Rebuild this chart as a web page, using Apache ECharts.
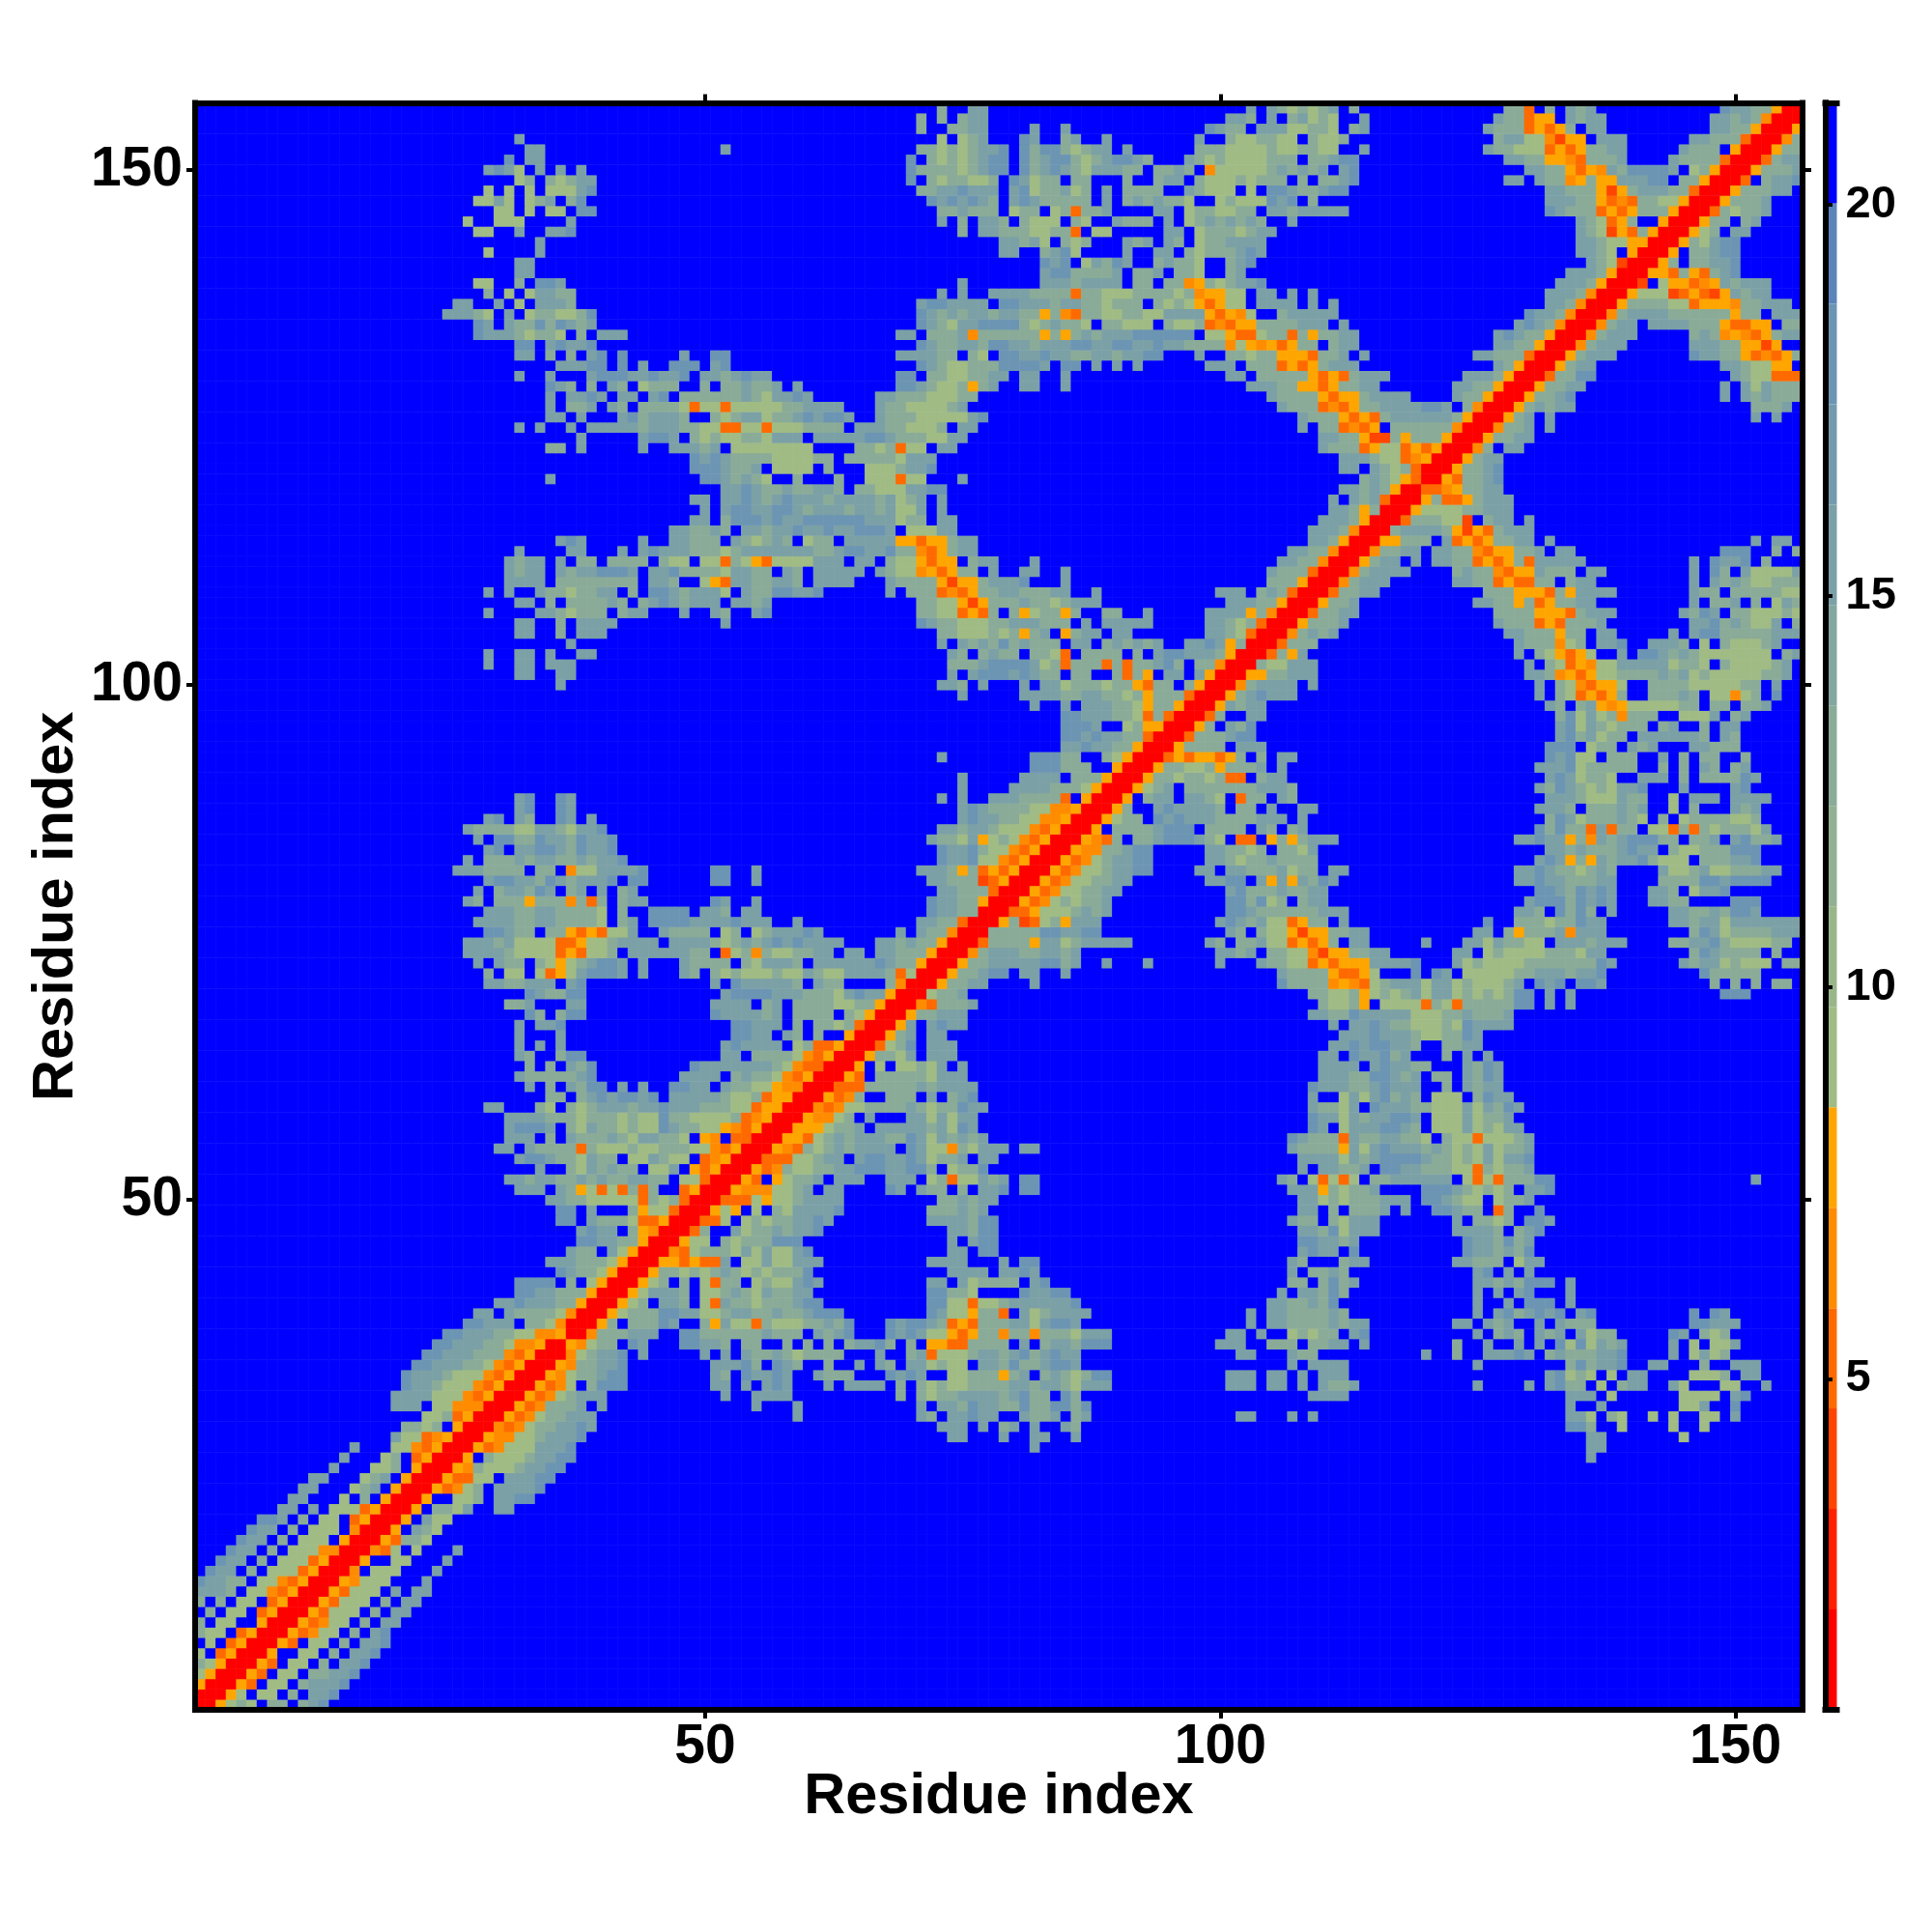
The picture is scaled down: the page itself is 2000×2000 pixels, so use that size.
<!DOCTYPE html>
<html>
<head>
<meta charset="utf-8">
<style>html,body{margin:0;padding:0;background:#fff}#c{width:2000px;height:2000px}</style>
<script src="https://cdn.jsdelivr.net/npm/echarts@6/dist/echarts.min.js"></script>
</head>
<body>
<div id="c"></div>
<script>
// Distance-map cells, upper-left half only (the matrix is symmetric).
// "row|col:codes col:codes" - code letters name the colour level, '.' and anything unlisted is the blue top level.
const cellRows = [
"156|73:k 76:nn 103:n 105:nkgkgkn 113:k 128:kku.k.nkn 149:pnnkkwrr",
"155|71:k 73:k 75:knn 101:nnk.n.kngkg 114:n 127:nkkuww.nknn 148:nnknkvrr",
"154|71:k 74:kknn 82:n 85:n 99:pnkk.nnnggkkg.kn 126:nkkkuwuwk.nn 148:nnkkwrr",
"153|32:n 73:g 75:gkn 81:pn 85:kn 89:n 98:n 101:kggkkgg.kggk 127:knnggvtww.nnn 146:nnkkkurr",
"152|33:nn 52:n 71:kkgkgknnp 81:pkppkgknn 91:n 98:kkkggggkggkkgg..n 126:nkkggguwuwkknn 145:nkkk.wrr",
"151|31:p 33:nn 70:p 72:kgkgknpp 81:pknppkgknppnk 97:nkgkggggkkk.kknpp 128:nnkkwwvukkkn 144:nkkkkurr",
"150|29:npn 32:g 34:n 36:n 38:n 70:pkkkkgknpp 81:pknpnkgnnnkk 94:kknk.vgggggknknkn.np 130:nnkkwuwvnkppppn.gkwrr",
"149|32:gk 35:kgkn 39:n 70:p 72:kgk 75:kggk 80:pngkk.kk 91:k 94:knn 98:kgggkgkkk.k.kknp 128:nn.nkkvwkwwnnnpp.kkwrr",
"148|29:g 31:g 33:g 35:gggnp 71:kknnp 76:nnn 80:npgkkngk.n.kkkk..nkggg.g.ppnkknpp 132:nnkkkwtwknnnkkurr",
"147|28:ggng 33:gkn 37:kp 72:pnpnpnk 80:npnkkkkk.n.knknkkg..gkgggpnp.k 132:nnnkkwuvukkggwrr",
"146|30:gg 33:g 35:gg 38:pp 73:kknkkk.gkk.gkukkn....nn.gkkggkk.nnknnnnn 132:pnkkkuwuwkkkwrr",
"145|27:g 30:ggg 37:n 73:n 75:k 77:nnk.kggg.kg..nkkk.n.gknknknk..n 135:nkguwk..wrr",
"144|28:gg 32:n 35:nnp 75:k 77:nnkkkggkku.gg 95:nn.gkkkgknn 135:nkgtwukwrr",
"143|34:n 79:nnkng.kgk 91:nkn.nk.gkknnnn 135:nnkggwwrr",
"142|29:g 34:n 79:nn 83:knpg 91:n 94:nn 97:kgkkknpn 135:nnkg.wrr",
"141|32:nn 83:pnp.gnkpn 94:knkkg..knp 136:nkgtrr",
"140|32:nn 83:nppkkkkn.kkn.kkg..kn 134:nnnkwrr",
"139|28:gg 32:k 34:ppn 75:n 83:nnnknnnn.kk.kkvwkgknnp 133:nnnkwrr",
"138|29:k 31:g 33:gnnkk 73:n 75:n 78:nnnnkkkkukkgggkkkkgkvwwgg.nn.n.n 132:nnnkvrr",
"137|26:nn 30:n 32:g 34:nnnk 71:nppnnnn.ppnnnknnkkgkkk.kgkgwuwgg.nnnn.n.n 132:nnkvrr",
"136|25:nnnkg 31:n 33:gkkggkp 71:pnknknnknnkkwkvukkggkkggnnnnwuwvg..knnnnn 130:pnnkvrr",
"135|28:pn 31:nkkpkpnkn 71:pnkgnnppppkgknkkg.kkggg.kggkuvuwwkkkknnn.n 129:npnkvrr",
"134|28:pnnnkgkkg 38:k 40:nnn 69:nn 72:kkknvkkkkkkwkwknknnnpppppp.ggwuugkkukwkknn 127:npnkkwrr",
"133|32:pp 35:npnnp 71:pnkknnkppnnknnnppnnppnnpnnkkkkvgwvwuwkk.knn 127:nnkkwrr",
"132|32:nn 35:k 37:k 39:np 42:p 48:n 51:pp 69:nnnnkk.kg.ppnnpnnkknnknnpp 98:n..kkgkkwwwukkn.n 125:nnkkkurr",
"131|36:nnnpp 42:p 44:n 47:ppp 51:np 71:pnkggkkkppppn.pp.n.n 92:n 99:nnn.kkkuwuwknnn 127:nkwrr",
"130|32:n 35:n 39:npppnnpnnp 50:nnk 53:npnn 69:pp 72:kkggkknn 81:nn 85:n 101:nn.kkkkkwuwuknnn 124:nnnkwrr",
"129|35:pnk 39:k 41:nk 44:gkkk 50:k 52:k 53:knkkn 59:n 69:ppnkggkwkn 81:nn 85:n 103:nnnkkwwuwkknn 123:nnkkwrr",
"128|35:n 37:nnpn 42:nn 45:np 48:kkkkk 53:knkgnnpn 67:nnkkkgggkk 105:nkkkkwuwwknnnn 123:nkkwrr",
"127|35:n 37:kkn 41:nk 44:kkkkguggu 53:gggggkknnnn 67:nkkggggkn 106:nkkkuvuwkknnnnppn.kvrr",
"126|35:nn 38:n 42:np 44:knnnk 51:kg 53:knngkknpnppn 67:nkkkgggggnp 108:nkkkwuwuknnnnnnkwrr",
"125|32:n 34:n 37:n 39:nnnnnk 45:nnnkkggu 53:uggugggkkkk.nnnkkgggk.nn 108:n 110:kkuvuw.kkkkkkvrr",
"124|38:n 44:nppn 49:kgkg 53:gkkgnnn.nnnnnppnkkkgg 74:nn 110:nnkkwttkwkkkwrr",
"123|35:kk 38:n 44:n 47:nnnkn 53:gggggggg 65:kkgkugg.nn 110:nkkkuwgguwuwrr",
"122|49:pnpn 53:kkkkggggkk.kkkkkgnnn 112:nnnkgguvwrr",
"121|49:pppn 53:kkn.gggg.k...gggknnp 112:nn.nkgkurr",
"120|35:n 50:ppn 53:knkg..k...k..gggugg...n 114:knkgwur",
"119|52:n 53:npnkknkknnk.kkgggnnpp 112:nnknkwrr",
"118|49:nn 52:n 53:npnknpnnnknnnnkngkn.n 111:n.nknurr",
"117|50:n 52:n 53:ppnnppnknnnknnknggn.n 111:nnkwkrr",
"116|49:nn 52:k 53:pppnpnnppppppnnngkk.nn 110:nnnkwrr",
"115|47:nnkknk 54:nnknnpnnpnnpppn.gggnn 109:nnnkvrr",
"114|36:npn 44:n 47:nnkkk 53:nkgknk.gkk.nnnnnwwuwwknn 109:nnkwrr",
"113|32:n 37:nn 42:n 44:npnnnkkkg 53:knnnnnnnkknppnnpkkvuwknn 107:nnkkvrr",
"112|31:nknn 36:n 38:kk 41:kkkk 46:kgg 50:ggu 53:kgwuggggnnn.nn.kggwuww.knn 82:n 106:nnkkvrr",
"111|31:nknn 36:nknnpppn 45:nnpkkkkg 53:nnkk.nk.nnnnn.nkggvwuwkk.n 81:nn 85:n 105:nkkkurr",
"110|31:nnnn 36:kkkkkkkk 45:nnk 50:gwu 53:nnkknnk.nnnn 68:nkkkkwtwwknnnp 85:n 105:kkkwrr",
"109|29:n 31:n 34:nkkgkknn 43:k 45:ppnknnng 54:nkkppnnp 68:n 70:kkkuvuwkknnkkknn 88:n 100:nnn 104:kn 106:kurr",
"108|32:nn 35:k 37:kkkkn 42:k 44:knpn 48:knnn 53:nnkn 71:kkggwtwkkknkkgknnn 101:nnnkkwrr",
"107|29:n 34:nnkgkkk 42:knn 48:n 51:nk 55:np 71:kkgguwuk.kwgkkwk 89:kk 93:n 99:nnnnwkvrr",
"106|32:nn 36:k 38:nnnn 52:n 71:pnkkgggkknnnkkk.n.nnnnn 99:nnkgkurr",
"105|32:nn 36:k 38:nnn 73:kkgggkgkwkn.wknn.nn 99:nnkgurr",
"104|37:n 73:n 75:nknkpknkkk.nn.knknkn..nnpnwkrr",
"103|29:n 32:nn 35:n 38:nn 74:nk.knkk.kkgu.kkkk.k.nppnnnkwrr",
"102|29:n 32:nn 35:nnn 74:kkknppppngkukkkukukknpk.kkvrr",
"101|32:nn 36:nn 74:n.npppnpnkk.kk..kukw.nn.nwrr",
"100|36:n 73:nnk.n 81:n.nngkkkgkkwukk.kwrr",
"99|75:n 81:nnnnkknnkkgkwkkkurr",
"98|82:n 85:n.nnnkkgwkkwrr",
"97|85:ppnnnkkgukurr",
"96|85:pppn..gkwwrr",
"95|85:ppnpnnkkurr",
"94|85:nnpnnkkwrr",
"93|73:n 82:pppkk..kgwrr",
"92|82:pppkkk..wrr",
"91|75:n 81:nnnn.kkkwrr",
"90|75:n 80:nnnnkkkgwrr",
"89|32:np 36:pn 73:n 75:n 78:nnnkkkku.wrr",
"88|32:np 36:pn 75:npnkkkkggvvwrr",
"87|29:np 32:nk 36:pn 39:n 75:npnnkkggvvwrr",
"86|27:nkkkkggnnkgnnp 73:nnknnkgggvuwrr",
"85|28:n 30:ppkkpnnkpnnp 72:nkkgnwgkgvuwrr",
"84|29:np 32:nnppnkpnnp 73:pnnpkggvuwrr",
"83|27:n 29:kkknk 34:nnkknknnp 73:pnnpggvuwrr",
"82|26:nnnkkkk.kk.vggnnnnp 51:pp 55:n 71:nnnkwkuwuwrr",
"81|29:nppnnk 35:pnknnnp 43:pp 51:pp 55:n 72:nnkkktuwrr",
"80|28:n 30:knnk 34:pn 37:kn 40:n 42:kn 73:nnkkkurr",
"79|27:nk 30:kkkwkkkvkuk 42:knn 51:pn 55:n 72:pnnkkwrr",
"78|29:nnnkknnkkkkg 42:k 45:pppp 50:nnk 54:nn 72:pnnkkrr",
"77|28:nnnnkknnkkkkg 42:kn 45:ppppnnnn 53:pnnn 59:n 71:nnkkurr",
"76|29:ppnkk.kkwuwuggn 46:nkkkk.g 53:k.gknnnpn 69:n 71:nkkvrr",
"75|27:nnnkngggguuwggk 42:nnnn.nnnnkg 53:knknpnpnnnn 67:nnknkkwrr",
"74|27:nnnnkgggguwuggk.nnnnnnkk.u 53:gkvkggkknn.nn.nnkkkwrr",
"73|28:n 30:nkk.kgwgknppn.n 48:nkkkk 54:kgnnnk.nnnnnnpnkkwrr",
"72|29:k.gg.guwgnpppn.n 48:nk.kg 53:kgggkggnkggnnnnkugrr",
"71|29:nnkknnn.np 51:n 53:pnnnnnk.nkk....kvrr",
"70|33:pnkkpp 52:n 53:ppppnnnkkkgnpnnwrr",
"69|31:kkn 37:nn 51:nn 53:nn.kn.kkkkggkkwrr",
"68|33:pk.k 37:pp 51:pn 53:nnnkn.kkkk.kgwrr",
"67|32:n 34:nnp 53:ppnnn.k.kkgkurr",
"66|32:n 36:n 53:ppnn.nk.k..wrr",
"65|32:n 34:n 36:n 52:n 53:pnnnn.gkuuwrr",
"64|32:nk 36:kpp 52:n 53:n.kkkkgvuwrr",
"63|33:k 35:k 37:nkp 49:pnnn 53:nnnnkgvuurr",
"62|32:nkkkkknp 48:nnnn 53:knkkgvuwrr",
"61|33:n 35:k 37:nkpp 42:n 44:n 47:ppnn 52:n 53:kkggwvvrr",
"60|35:kk 38:knpnppnp 47:nnnnnk 53:ggkuwwrr",
"59|29:nn 34:kg 37:kg 39:knnnknn 46:pnnnkkk 53:gguwwrr",
"58|31:nnnnkkkgkkkgk 44:gg 46:pkkgggg 53:kuvwrr",
"57|31:npppn.kgnkkgkggpnkkggw 53:vuwrr",
"56|31:nnn.k.nkkknkgnnkkg.wv 53:uurr",
"55|30:nn.nkkkkukgggkggkkkggvu 53:wrr",
"54|32:nppnkkgnkk.ggnkgg.uvwrr",
"53|34:n 37:kgnknkk 45:ggn.wuwrr",
"52|31:nnknnkknknkknnkk.ggurr",
"51|32:nnn.nkwgugukuk..uwrr",
"50|35:nnkkgggggukgkurr",
"49|36:pp.n...kwggurr",
"48|36:pp 39:nkkkguuwrr",
"47|38:npnn.kwvrr",
"46|38:ppnnkkwrr",
"45|37:nkk.ngwrr",
"44|35:nnnkkkgwrr",
"43|36:pnkkgwrr",
"42|32:pppp.k.gwrr",
"41|32:ppnnkkkwrr",
"40|30:nnpnnnkkwrr",
"39|28:nn.nkkkkgvrr",
"38|27:ppnnn.kkgvrr",
"37|25:ppnnnkkggvvwr",
"36|24:ppnnnkkgvvwrr",
"35|23:ppnnnkkkvuwrr",
"34|22:ppnnnkkgvuwrr",
"33|21:pnnnkgggvuwrr",
"32|21:pnnkgggvuwrr",
"31|20:nnnngggvuwrr",
"30|20:nnn.ggvvvrr",
"29|23:ggkuwrr",
"28|21:kkgk.wrr",
"27|20:ngguvwrr",
"26|16:n 20:ggvuwrr",
"25|15:n 19:gk.uwrr",
"24|14:n 18:ggk.wrr",
"23|12:nn 17:gkn.wrr",
"22|11:nn 16:gkn.wrr",
"21|10:nn 15:g.k.wrr",
"20|9:nn.n.ggguwrr",
"19|7:ppn.k.gg.uwrr",
"18|6:pnn.k.ggg.vrr",
"17|5:pnn.k.ggg.wrr",
"16|4:pnn.k.gggvvrr",
"15|3:pnn.k.ggguwrr",
"14|2:pnn.k.ggguwrr",
"13|1:pnnkk.ggvuwrr",
"12|1:nnnk.ggvuwrr",
"11|1:k.k.gg.uwrr",
"10|2:k.gg.uwrr",
"9|1:k.gg..wrr",
"8|1:kgg.uwrr",
"7|2:g.uwrr",
"6|1:g.uwrr",
"5|1:kgwrr",
"4|1:gwrr",
"3|1:wrr",
"2|1:rr",
"1|1:r"
];
const residueCount = 156;
const residueTicks = [50, 100, 150];
const colorTicks = [5, 10, 15, 20];
const colorMin = 0.77;
const colorMax = 21.3;
const levelColors = ["#ff0000","#ff2200","#ff4500","#ff6a00","#ff8c00","#ffa500",
  "#a0bb84","#99b68b","#92b092","#8aab98","#83a69f","#7ba0a6","#749bad","#6c95b3","#5b84bb","#0000ff"];
const codeLevels = {r:0,s:1,t:2,u:3,v:4,w:5,g:6,k:9,n:11,p:13,'.':15};
const axisFont = "Liberation Sans";

const step = (colorMax - colorMin) / levelColors.length;
const levelValue = l => colorMin + step * (l + 0.5);
const residues = [];
for (let i = 1; i <= residueCount; i++) residues.push(String(i));

const matrix = [];
for (let j = 0; j <= residueCount; j++) { matrix.push(new Array(residueCount + 1).fill(15)); }
cellRows.forEach(line => {
  const [row, rest] = line.split('|');
  const j = +row;
  rest.split(' ').forEach(seg => {
    const [start, codes] = seg.split(':');
    for (let k = 0; k < codes.length; k++) {
      const i = +start + k;
      if (i > residueCount) continue;
      const l = codeLevels[codes[k]];
      matrix[j][i] = l;
      matrix[i][j] = l;
    }
  });
});
const cells = [];
for (let j = 1; j <= residueCount; j++)
  for (let i = 1; i <= residueCount; i++)
    cells.push([i - 1, j - 1, levelValue(matrix[j][i])]);

const pieces = levelColors.map((c, l) => ({gte: colorMin + step * l, lt: colorMin + step * (l + 1), color: c}));
const colorBands = levelColors.map((c, l) => [colorMin + step * l, colorMin + step * (l + 1), l]);

const isTick = idx => residueTicks.indexOf(idx + 1) >= 0;
const frame = {lineStyle: {color: '#000', width: 6, cap: 'square'}};
const labelStyle = {fontFamily: axisFont, fontWeight: 'bold', fontSize: 57, color: '#000'};
const nameStyle = {fontFamily: axisFont, fontWeight: 'bold', fontSize: 59.5, color: '#000'};
const tick = {show: true, length: 9, lineStyle: {color: '#000', width: 4}, alignWithLabel: true, interval: isTick};

const grids = [
  {left: 202, top: 106.5, width: 1664, height: 1663.5, containLabel: false},
  {left: 1889.5, top: 106.5, width: 12, height: 1663.5, containLabel: false}
];
const chart = echarts.init(document.getElementById('c'), null, {renderer: 'canvas', width: 2000, height: 2000});
chart.setOption({
  animation: false,
  backgroundColor: '#ffffff',
  grid: grids,
  tooltip: {show: false},
  visualMap: {type: 'piecewise', show: false, seriesIndex: 0, dimension: 2, pieces: pieces},
  xAxis: [
    {gridIndex: 0, type: 'category', data: residues, position: 'bottom', z: 10,
     axisLine: Object.assign({show: true}, frame), axisTick: tick, splitLine: {show: false},
     axisLabel: Object.assign({interval: isTick, margin: 11}, labelStyle),
     name: 'Residue index', nameLocation: 'middle', nameGap: 61, nameMoveOverlap: false, nameTextStyle: nameStyle},
    {gridIndex: 0, type: 'category', data: residues, position: 'top', z: 10,
     axisLine: Object.assign({show: true}, frame), axisTick: tick, axisLabel: {show: false}, splitLine: {show: false}},
    {gridIndex: 1, type: 'value', min: 0, max: 1, position: 'bottom', z: 10,
     axisLine: Object.assign({show: true}, frame), axisTick: {show: false}, axisLabel: {show: false}, splitLine: {show: false}},
    {gridIndex: 1, type: 'value', min: 0, max: 1, position: 'top', z: 10,
     axisLine: Object.assign({show: true}, frame), axisTick: {show: false}, axisLabel: {show: false}, splitLine: {show: false}}
  ],
  yAxis: [
    {gridIndex: 0, type: 'category', data: residues, position: 'left', z: 10,
     axisLine: Object.assign({show: true}, frame), axisTick: tick, splitLine: {show: false},
     axisLabel: Object.assign({interval: isTick, margin: 13, padding: [9, 0, 0, 0]}, labelStyle),
     name: 'Residue index', nameLocation: 'middle', nameGap: 113, nameMoveOverlap: false, nameRotate: 90, nameTextStyle: nameStyle},
    {gridIndex: 0, type: 'category', data: residues, position: 'right', z: 10,
     axisLine: Object.assign({show: true}, frame), axisTick: tick, axisLabel: {show: false}, splitLine: {show: false}},
    {gridIndex: 1, type: 'value', min: colorMin, max: colorMax, position: 'right', z: 10,
     axisLine: Object.assign({show: true}, frame),
     axisTick: {show: true, length: 7.5, lineStyle: {color: '#000', width: 4}, customValues: colorTicks},
     axisLabel: {customValues: colorTicks, margin: 9, fontFamily: axisFont, fontWeight: 'bold', fontSize: 47, color: '#000'},
     splitLine: {show: false}},
    {gridIndex: 1, type: 'value', min: colorMin, max: colorMax, position: 'left', z: 10,
     axisLine: Object.assign({show: true}, frame), axisTick: {show: false}, axisLabel: {show: false}, splitLine: {show: false}}
  ],
  series: [
    {type: 'heatmap', xAxisIndex: 0, yAxisIndex: 0, data: cells, progressive: 0, silent: true,
     emphasis: {disabled: true}, itemStyle: {borderWidth: 0}},
    {type: 'custom', xAxisIndex: 2, yAxisIndex: 2, data: colorBands, silent: true, clip: true,
     encode: {y: [0, 1]},
     renderItem: (params, api) => {
       const a = api.coord([0, api.value(0)]);
       const b = api.coord([1, api.value(1)]);
       return {type: 'rect',
         shape: {x: a[0], y: b[1], width: b[0] - a[0], height: a[1] - b[1]},
         style: {fill: levelColors[api.value(2)]}};
     }}
  ]
});
</script>
</body>
</html>
